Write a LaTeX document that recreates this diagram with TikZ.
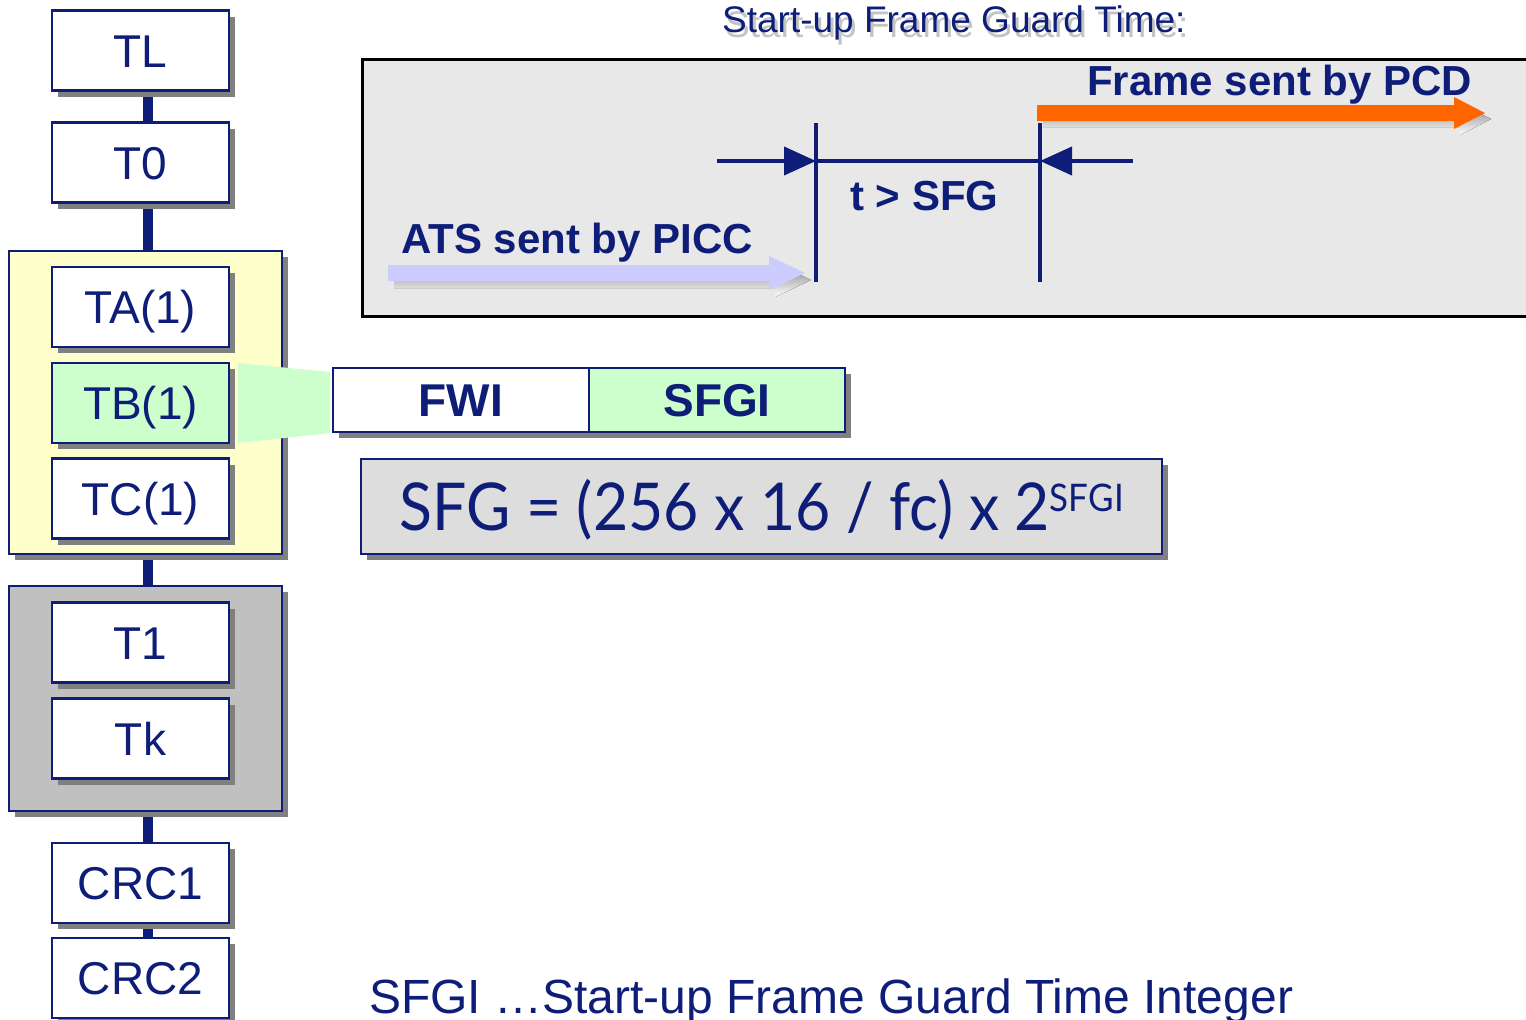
\documentclass[tikz,border=0pt]{standalone}
\usepackage{fontspec}
\usepackage{graphicx}
\setmainfont{Liberation Sans}
\newfontfamily\formulafont{Lato}
\usetikzlibrary{shadows,arrows.meta,backgrounds}
\definecolor{navy}{HTML}{0E1E78}
\definecolor{shade}{HTML}{808080}
\definecolor{paleyellow}{HTML}{FFFFCC}
\definecolor{palegreen}{HTML}{CCFFCC}
\definecolor{midgray}{HTML}{C0C0C0}
\definecolor{panelgray}{HTML}{E8E8E8}
\definecolor{formulagray}{HTML}{DDDDDD}
\definecolor{atsblue}{HTML}{CCCCFF}
\definecolor{pcdorange}{HTML}{FF6600}
\definecolor{titleshade}{HTML}{C4C4C4}

\begin{document}
\begin{tikzpicture}[x=1pt,y=-1pt,
  boxshadow/.style={drop shadow={shadow xshift=6pt,shadow yshift=-6pt,fill=shade,opacity=1}},
  fieldbox/.style={draw=navy,line width=2.5pt,fill=white,minimum width=177pt,minimum height=80pt,
    inner sep=0pt,text=navy,font=\fontsize{46}{46}\selectfont,text height=33pt,text depth=0pt,boxshadow},
  groupbox/.style={draw=navy,line width=2.5pt,minimum width=273pt,inner sep=0pt,boxshadow},
  byte/.style={draw=navy,line width=2.5pt,fill=white,minimum width=256pt,minimum height=64pt,inner sep=0pt,
    text=navy,font=\fontsize{46}{46}\selectfont\bfseries,text height=33pt,text depth=0pt,boxshadow},
  link/.style={navy,line width=10pt},
  dimline/.style={navy,line width=4pt},
  dimarrow/.style={navy,line width=4pt,-{Triangle[length=32pt,width=28pt]}},
  label/.style={inner sep=0pt,anchor=base west,text=navy,font=\fontsize{42}{42}\selectfont\bfseries},
]
\useasboundingbox (0,0) rectangle (1526,1020);

% ---------- timing panel ----------
\fill[shade] (367,65) rectangle (1540,322);
\node[draw=black,line width=3pt,fill=panelgray,minimum width=1180pt,minimum height=257pt,inner sep=0pt,anchor=north west]
  (panel) at (361,58) {};

% title with its soft shadow
\node[inner sep=0pt,anchor=base west,text=titleshade,font=\fontsize{37}{37}\selectfont] at (725,37) {Start-up Frame Guard Time:};
\node[inner sep=0pt,anchor=base west,text=navy,font=\fontsize{37}{37}\selectfont] (title) at (722,32) {Start-up Frame Guard Time:};

% ATS block arrow
\fill[shade] (394,272) -- (775,272) -- (775,263) -- (811,280) -- (775,297) -- (775,288) -- (394,288) -- cycle;
\fill[atsblue] (388,265) -- (769,265) -- (769,256) -- (805,273) -- (769,290) -- (769,281) -- (388,281) -- cycle;
\node[label] (ats) at (401,253) {ATS sent by PICC};

% PCD block arrow
\fill[shade] (1043,111) -- (1460,111) -- (1460,103) -- (1491,119) -- (1460,135) -- (1460,127) -- (1043,127) -- cycle;
\fill[pcdorange] (1037,105) -- (1454,105) -- (1454,97) -- (1485,113) -- (1454,129) -- (1454,121) -- (1037,121) -- cycle;
\node[label] (pcd) at (1087,95) {Frame sent by PCD};

% guard-time dimension
\coordinate (ltop) at (816,123);
\coordinate (lbot) at (816,282);
\coordinate (rtop) at (1040,123);
\coordinate (rbot) at (1040,282);
\coordinate (lmid) at (816,161);
\coordinate (rmid) at (1040,161);
\coordinate (lfree) at (717,161);
\coordinate (rfree) at (1133,161);
\draw[dimline] (ltop) -- (lbot);
\draw[dimline] (rtop) -- (rbot);
\draw[dimline] (lmid) -- (rmid);
\draw[dimarrow] (lfree) -- (lmid);
\draw[dimarrow] (rfree) -- (rmid);
\node[label] (tsfg) at (850,210) {t > SFG};

% ---------- frame structure column ----------
\node[fieldbox] (TL) at (140.5,50.5) {TL};
\node[fieldbox] (T0) at (140.5,162.5) {T0};

\node[groupbox,fill=paleyellow,minimum height=303pt] (iface) at (145.5,402.5) {};
\node[fieldbox] (TA) at (140.5,307) {TA(1)};
\node[fieldbox,fill=palegreen] (TB) at (140.5,403) {TB(1)};
\node[fieldbox] (TC) at (140.5,498.5) {TC(1)};

\node[groupbox,fill=midgray,minimum height=225pt] (hist) at (145.5,698.5) {};
\node[fieldbox] (T1) at (140.5,642.5) {T1};
\node[fieldbox] (Tk) at (140.5,738.5) {Tk};

\node[fieldbox] (CRC1) at (140.5,883) {CRC1};
\node[fieldbox] (CRC2) at (140.5,978) {CRC2};

\coordinate (spine) at (148,0);
\begin{scope}[on background layer]
  \draw[link] (TL.south -| spine) -- (T0.north -| spine);
  \draw[link] (T0.south -| spine) -- (iface.north -| spine);
  \draw[link] (iface.south -| spine) -- (hist.north -| spine);
  \draw[link] (hist.south -| spine) -- (CRC1.north -| spine);
  \draw[link] (CRC1.south -| spine) -- (CRC2.north -| spine);
\end{scope}

% ---------- TB(1) breakdown ----------
\node[byte] (fwi) at (461,400) {FWI};
\node[byte,fill=palegreen] (sfgi) at (717,400) {SFGI};
\fill[palegreen] (238,363) -- (330,372) -- (330,433) -- (238,443) -- cycle;

\node[draw=navy,line width=2.5pt,fill=formulagray,minimum width=801pt,minimum height=95pt,inner sep=0pt,
  text=navy,font=\formulafont\fontsize{66}{66}\selectfont,text height=47pt,text depth=0pt,boxshadow]
  (formula) at (761.5,506.5)
  {\scalebox{0.92}[1]{SFG = (256 x 16 / fc) x 2\raisebox{19pt}{\fontsize{38}{38}\selectfont SFGI}}};

% ---------- legend ----------
\node[inner sep=0pt,anchor=base west,text=navy,font=\fontsize{48}{48}\selectfont] (legend) at (369,1013)
  {SFGI …Start-up Frame Guard Time Integer};
\end{tikzpicture}
\end{document}
